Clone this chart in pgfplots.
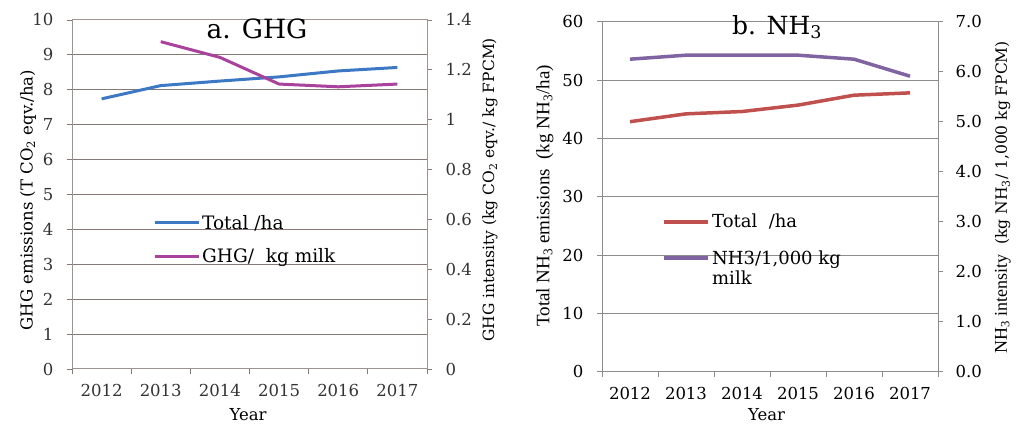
\documentclass[border=0pt]{standalone}
\usepackage{pgfplots}
\pgfplotsset{compat=1.18}
\usepackage{fontspec}
\setmainfont{DejaVu Serif}
\newfontfamily\timesf{Liberation Serif}
\definecolor{ghgblue}{HTML}{3C78C3}
\definecolor{ghgmag}{HTML}{A8429C}
\definecolor{nhred}{HTML}{C0504D}
\definecolor{nhpurple}{HTML}{8064A2}
\definecolor{gridA}{HTML}{857876}
\definecolor{gridB}{HTML}{8C8C8C}
\begin{document}
\begin{tikzpicture}[x=1pt,y=1pt]
\useasboundingbox (0,0) rectangle (1017,427);
\fill[white] (0,0) rectangle (1017,427);
\pgfplotsset{
  every axis/.append style={
    scale only axis,
    /pgf/number format/assume math mode=true,
    tick label style={font=\fontsize{16.5}{18}\selectfont},
    xmin=-0.5, xmax=5.5,
    tick align=outside,
    major tick length=5pt,
  },
  legimg/.style={legend image code/.code={\draw[##1] (0pt,0pt) -- (44pt,0pt);}},
}
% ---------------- Panel a ----------------
\begin{axis}[
  at={(72pt,58pt)}, anchor=south west,
  width=355pt, height=349pt,
  ymin=0, ymax=10, ytick={0,...,10},
  xtick={-0.5,0.5,...,5.5}, xticklabels={,,,,,,,},
  extra x ticks={0,1,2,3,4,5},
  extra x tick labels={2012,2013,2014,2015,2016,2017},
  extra x tick style={major tick length=0pt, grid=none},
  xticklabel style={yshift=-12pt},
  yticklabel style={xshift=-10pt},
  ytick pos=left, xtick pos=bottom,
  ymajorgrids, grid style={gridA, line width=1pt},
  axis line style={gridA!80, line width=1pt},
  tick style={gridA, line width=0.8pt},
  tick label style={text=black!80},
  xlabel={Year}, ylabel={GHG emissions (T CO\textsubscript{2} eqv./ha)},
  xlabel style={at={(axis description cs:0.496,-0.132)}, anchor=center, font=\fontsize{16.5}{18}\selectfont},
  ylabel style={at={(axis description cs:-0.124,0.484)}, anchor=center, font=\fontsize{16.5}{18}\selectfont},
  title={a. GHG},
  title style={at={(axis description cs:0.521,0.957)}, anchor=center, font=\fontsize{26.5}{28}\selectfont},
  legimg,
  legend style={at={(axis description cs:0.228,0.447)}, anchor=north west, draw=none, fill=none,
    inner sep=0pt, font=\fontsize{18.5}{20}\selectfont, row sep=14pt, cells={anchor=west}},
]
\addplot[ghgblue, line width=3pt] coordinates {(0,7.74) (1,8.12) (2,8.25) (3,8.37) (4,8.54) (5,8.64)};
\addlegendentry{Total /ha}
\addlegendimage{ghgmag, line width=3pt}
\addlegendentry{GHG/\ \ kg milk}
\end{axis}
\begin{axis}[
  at={(72pt,58pt)}, anchor=south west,
  width=355pt, height=349pt,
  ymin=0, ymax=1.4, ytick={0,0.2,...,1.4},
  yticklabel style={xshift=10pt},
  axis y line*=right, axis x line=none,
  axis line style={gridA!80, line width=1pt},
  tick style={gridA, line width=0.8pt},
  tick label style={text=black!80},
  ylabel={GHG intensity (kg CO\textsubscript{2} eqv./ kg FPCM)},
  ylabel style={at={(axis description cs:1.177,0.513)}, anchor=center, rotate=0, font=\fontsize{15.5}{17}\selectfont},
]
\addplot[ghgmag, line width=3pt] coordinates {(1,1.313) (2,1.25) (3,1.143) (4,1.132) (5,1.143)};
\end{axis}
% ---------------- Panel b ----------------
\begin{axis}[
  at={(602pt,55.3pt)}, anchor=south west,
  width=336pt, height=350pt,
  ymin=0, ymax=60, ytick={0,10,...,60},
  xtick={-0.5,0.5,...,5.5}, xticklabels={,,,,,,,},
  extra x ticks={0,1,2,3,4,5},
  extra x tick labels={2012,2013,2014,2015,2016,2017},
  extra x tick style={major tick length=0pt, grid=none},
  xticklabel style={yshift=-12pt},
  yticklabel style={xshift=-10pt},
  ytick pos=left, xtick pos=bottom,
  ymajorgrids, grid style={gridB, line width=1pt},
  axis line style={gridB, line width=1pt},
  tick style={gridB, line width=0.8pt},
  xlabel={Year}, ylabel={{\timesf Total NH\textsubscript{3} emissions\ \ (kg NH\textsubscript{3}/ha)}},
  xlabel style={at={(axis description cs:0.49,-0.124)}, anchor=center, font=\fontsize{16.5}{18}\selectfont},
  ylabel style={at={(axis description cs:-0.17,0.502)}, anchor=center, font=\fontsize{19}{21}\selectfont},
  title={b. NH\textsubscript{3}},
  title style={at={(axis description cs:0.521,0.968)}, anchor=center, font=\fontsize{25}{27}\selectfont},
  legimg,
  legend style={at={(axis description cs:0.18,0.456)}, anchor=north west, draw=none, fill=none,
    inner sep=0pt, font=\fontsize{18}{19}\selectfont, row sep=17pt, cells={anchor=west}},
]
\addplot[nhred, line width=3.5pt] coordinates {(0,42.86) (1,44.2) (2,44.6) (3,45.7) (4,47.4) (5,47.8)};
\addlegendentry{Total\ \ /ha}
\addlegendimage{nhpurple, line width=3.5pt}
\addlegendentry{\begin{tabular}[t]{@{}l@{}}NH3/1,000 kg\\[1pt] milk\end{tabular}}
\end{axis}
\begin{axis}[
  at={(602pt,55.3pt)}, anchor=south west,
  width=336pt, height=350pt,
  ymin=0, ymax=7, ytick={0,1,...,7},
  yticklabel style={/pgf/number format/.cd, fixed, fixed zerofill, precision=1, /tikz/.cd, xshift=9pt},
  axis y line*=right, axis x line=none,
  axis line style={gridB, line width=1pt},
  tick style={gridB, line width=0.8pt},
  ylabel={{\timesf\fontsize{18}{20}\selectfont NH\textsubscript{3} intensity}\ \ (kg NH\textsubscript{3}/\ 1,000 kg FPCM)},
  ylabel style={at={(axis description cs:1.193,0.498)}, anchor=center, rotate=0, font=\fontsize{15.5}{17}\selectfont},
]
\addplot[nhpurple, line width=3.5pt] coordinates {(0,6.25) (1,6.33) (2,6.33) (3,6.33) (4,6.25) (5,5.91)};
\end{axis}
\end{tikzpicture}
\end{document}
